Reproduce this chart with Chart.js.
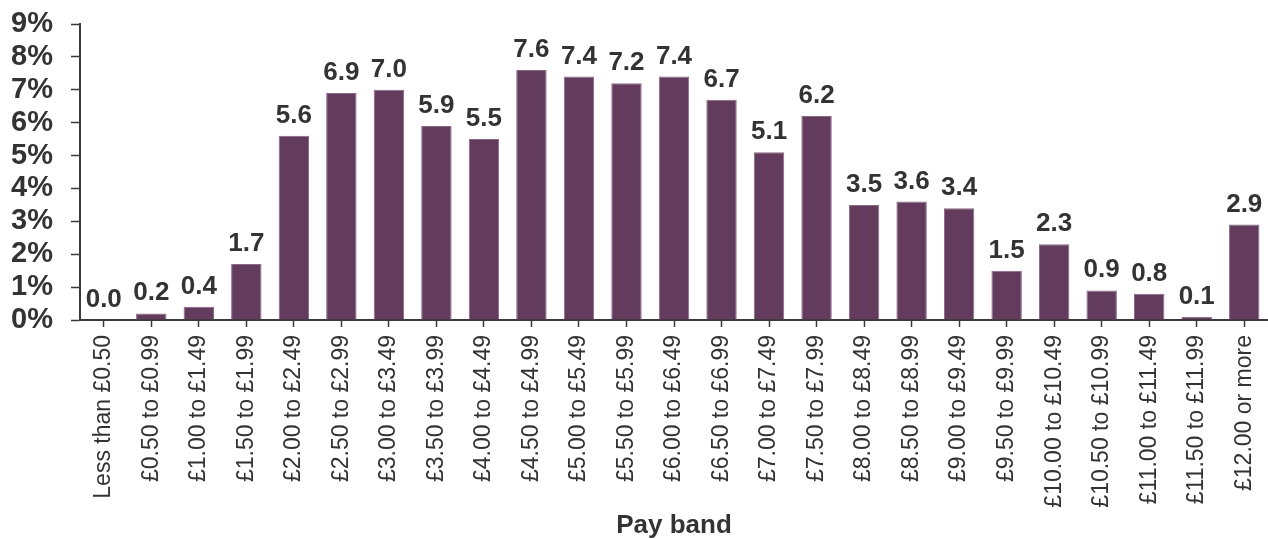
<!DOCTYPE html>
<html lang="en">
<head>
  <meta charset="UTF-8">
  <title>Pay band distribution</title>
  <script src="https://cdn.jsdelivr.net/npm/chart.js"></script>
  <style>
    html, body { margin: 0; padding: 0; background: #ffffff; }
    .wrap { width: 1268px; height: 539px; position: relative; }
  </style>
</head>
<body>
<div class="wrap">
  <canvas id="myChart"></canvas>
</div>

<script>
  // Data
  const payBands = [
    "Less than £0.50", "£0.50 to £0.99", "£1.00 to £1.49", "£1.50 to £1.99",
    "£2.00 to £2.49", "£2.50 to £2.99", "£3.00 to £3.49", "£3.50 to £3.99",
    "£4.00 to £4.49", "£4.50 to £4.99", "£5.00 to £5.49", "£5.50 to £5.99",
    "£6.00 to £6.49", "£6.50 to £6.99", "£7.00 to £7.49", "£7.50 to £7.99",
    "£8.00 to £8.49", "£8.50 to £8.99", "£9.00 to £9.49", "£9.50 to £9.99",
    "£10.00 to £10.49", "£10.50 to £10.99", "£11.00 to £11.49", "£11.50 to £11.99",
    "£12.00 or more"
  ];
  const sharePct = [
    0.0, 0.2, 0.4, 1.7, 5.6, 6.9, 7.0, 5.9, 5.5, 7.6, 7.4, 7.2, 7.4,
    6.7, 5.1, 6.2, 3.5, 3.6, 3.4, 1.5, 2.3, 0.9, 0.8, 0.1, 2.9
  ];
  const yTicks = [0, 1, 2, 3, 4, 5, 6, 7, 8, 9];

  const textColor = '#333333';
  const axisColor = '#3a3a3a';
  const font = 'Liberation Sans, Arial, sans-serif';

  // value labels above bars
  const barLabels = {
    id: 'barLabels',
    afterDatasetsDraw(chart) {
      const ctx = chart.ctx;
      const meta = chart.getDatasetMeta(0);
      ctx.save();
      ctx.font = 'bold 26px ' + font;
      ctx.fillStyle = textColor;
      ctx.textAlign = 'center';
      ctx.textBaseline = 'alphabetic';
      meta.data.forEach((bar, i) => {
        ctx.fillText(sharePct[i].toFixed(1), bar.x, bar.y - 13);
      });
      ctx.restore();
    }
  };

  const config = {
    type: 'bar',
    data: {
      labels: payBands,
      datasets: [{
        label: 'Share',
        data: sharePct,
        backgroundColor: '#623b5d',
        borderColor: '#8c6887',
        borderWidth: 1,
        barPercentage: 0.64,
        categoryPercentage: 1.0
      }]
    },
    options: {
      responsive: true,
      maintainAspectRatio: false,
      animation: false,
      layout: { padding: { top: 24, left: 6, right: 0, bottom: 0 } },
      scales: {
        x: {
          grid: {
            display: true,
            drawOnChartArea: false,
            drawTicks: true,
            tickLength: 7,
            tickWidth: 1.5,
            tickColor: axisColor,
            offset: false
          },
          border: { display: true, color: axisColor, width: 2 },
          ticks: {
            color: textColor,
            font: { family: font, size: 23 },
            minRotation: 90,
            maxRotation: 90,
            autoSkip: false,
            padding: 8
          },
          title: {
            display: true,
            text: 'Pay band',
            color: textColor,
            font: { family: font, size: 26, weight: 'bold', lineHeight: 1 },
            padding: { top: 2, bottom: 0 }
          },
          afterFit(scale) {
            scale.height = 219;
            scale.paddingLeft = 0;
            scale.paddingRight = 0;
          }
        },
        y: {
          min: 0,
          max: 9,
          afterBuildTicks(scale) {
            scale.ticks = yTicks.map(v => ({ value: v }));
          },
          grid: {
            display: true,
            drawOnChartArea: false,
            drawTicks: true,
            tickLength: 9,
            tickWidth: 1.5,
            tickColor: axisColor
          },
          border: { display: true, color: axisColor, width: 2 },
          ticks: {
            color: textColor,
            font: { family: font, size: 29, weight: 'bold' },
            padding: 18,
            autoSkip: false,
            callback: v => v + '%'
          },
          afterFit(scale) {
            scale.width = 74;
            scale.paddingTop = 0;
            scale.paddingBottom = 0;
          }
        }
      },
      plugins: {
        legend: { display: false },
        tooltip: { enabled: false }
      }
    },
    plugins: [barLabels]
  };

  const ctx = document.getElementById('myChart').getContext('2d');
  const myChart = new Chart(ctx, config);
</script>
</body>
</html>
